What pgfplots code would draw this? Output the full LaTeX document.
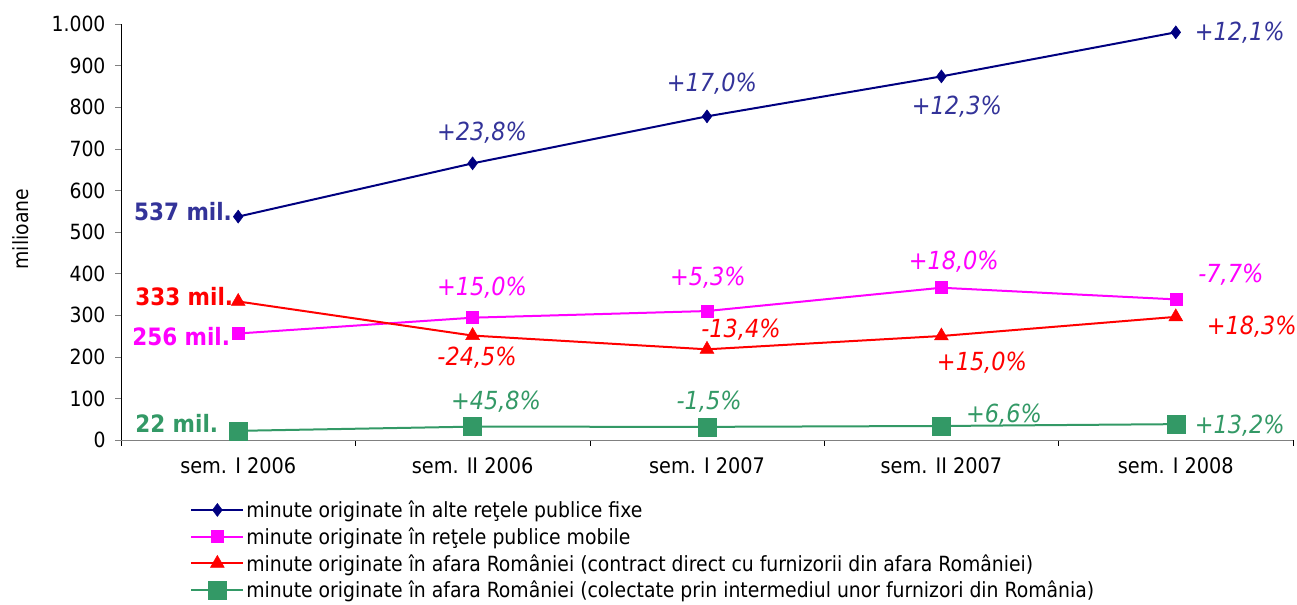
\documentclass[border=0pt]{standalone}
\usepackage{pgfplots}
\pgfplotsset{compat=1.18}
\usepackage{fontspec}
\setmainfont{DejaVu Sans Condensed}
\definecolor{cnavy}{RGB}{0,0,128}
\definecolor{cblue}{RGB}{51,51,153}
\definecolor{cmag}{RGB}{255,0,255}
\definecolor{cred}{RGB}{255,0,0}
\definecolor{cgreen}{RGB}{51,153,102}
\newcommand\pct[4]{\node[font=\fontsize{25}{28}\selectfont\itshape, text=#1] at (axis cs:#2,#3) {#4};}
\newcommand\mil[4]{\node[font=\fontsize{24}{27}\selectfont\bfseries, text=#1, anchor=east, inner sep=0pt] at (axis cs:#2,#3) {#4};}
\begin{document}
\begin{tikzpicture}
\useasboundingbox (0,0) rectangle (1297bp,605bp);
\begin{axis}[
  at={(121bp,165bp)}, anchor=south west,
  scale only axis, width=1172bp, height=416bp,
  xmin=-0.5, xmax=4.5, ymin=0, ymax=1000,
  axis x line*=bottom, axis y line*=left,
  axis line style={-},
  x axis line style={draw=gray},
  y axis line style={draw=black},
  xtick={0,1,2,3,4},
  xticklabels={sem. I 2006, sem. II 2006, sem. I 2007, sem. II 2007, sem. I 2008},
  major x tick style={draw=none},
  minor xtick={-0.5,0.5,1.5,2.5,3.5,4.5},
  minor x tick style={draw=black},
  minor tick length=6bp,
  major tick length=6bp,
  tick align=outside,
  ytick={0,100,...,1000},
  /pgf/number format/assume math mode=true,
  /pgf/number format/1000 sep={.},
  yticklabel style={font=\fontsize{21}{24}\selectfont, xshift=-6bp},
  xticklabel style={font=\fontsize{21.5}{24}\selectfont, yshift=-8bp},
  ylabel={milioane},
  ylabel style={font=\fontsize{21}{24}\selectfont, at={(axis description cs:-0.086,0.507)}, anchor=center},
  legend style={at={(axis description cs:0.059,-0.141)}, anchor=north west, draw=none, fill=none,
    font=\fontsize{21}{24}\selectfont, row sep=4.5bp, inner sep=0pt, cells={anchor=west}},
  legend cell align=left,
  legend image code/.code={\draw[mark repeat=2,mark phase=2,#1] plot coordinates {(0bp,0bp) (26bp,0bp) (52bp,0bp)};},
  clip=false,
]
\addplot[cnavy, line width=2bp, mark=diamond*, mark size=6.5bp, mark options={solid, line width=0.5bp}]
  coordinates {(0,537)(1,665)(2,778)(3,874)(4,980)};
\addlegendentry{minute originate în alte reţele publice fixe}
\addplot[cmag, line width=2bp, mark=square*, mark size=6bp, mark options={solid, line width=0.5bp}]
  coordinates {(0,256)(1,294)(2,310)(3,366)(4,338)};
\addlegendentry{minute originate în reţele publice mobile}
\addplot[cred, line width=2bp, mark=triangle*, mark size=8bp, mark options={solid, line width=0.5bp}]
  coordinates {(0,333)(1,251)(2,218)(3,250)(4,296)};
\addlegendentry{minute originate în afara României (contract direct cu furnizorii din afara României)}
\addplot[cgreen, line width=2bp, mark=square*, mark size=9bp, mark options={solid, line width=0.5bp}]
  coordinates {(0,22)(1,32.1)(2,31.6)(3,33.7)(4,38.1)};
\addlegendentry{minute originate în afara României (colectate prin intermediul unor furnizori din România)}

\pct{cblue}{1.040}{738}{+23,8\%}
\pct{cblue}{2.021}{856}{+17,0\%}
\pct{cblue}{3.066}{800}{+12,3\%}
\pct{cblue}{4.273}{978}{+12,1\%}
\pct{cmag}{1.040}{365}{+15,0\%}
\pct{cmag}{2.004}{389}{+5,3\%}
\pct{cmag}{3.053}{428}{+18,0\%}
\pct{cmag}{4.235}{397}{-7,7\%}
\pct{cred}{1.019}{197}{-24,5\%}
\pct{cred}{2.145}{264}{-13,4\%}
\pct{cred}{3.173}{185}{+15,0\%}
\pct{cred}{4.324}{272}{+18,3\%}
\pct{cgreen}{1.100}{91}{+45,8\%}
\pct{cgreen}{2.009}{91}{-1,5\%}
\pct{cgreen}{3.267}{60}{+6,6\%}
\pct{cgreen}{4.273}{34}{+13,2\%}
\mil{cblue}{-0.026}{550}{537 mil.}
\mil{cred}{-0.021}{344}{333 mil.}
\mil{cmag}{-0.034}{248}{256 mil.}
\mil{cgreen}{-0.085}{41}{22 mil.}
\end{axis}
\end{tikzpicture}
\end{document}
